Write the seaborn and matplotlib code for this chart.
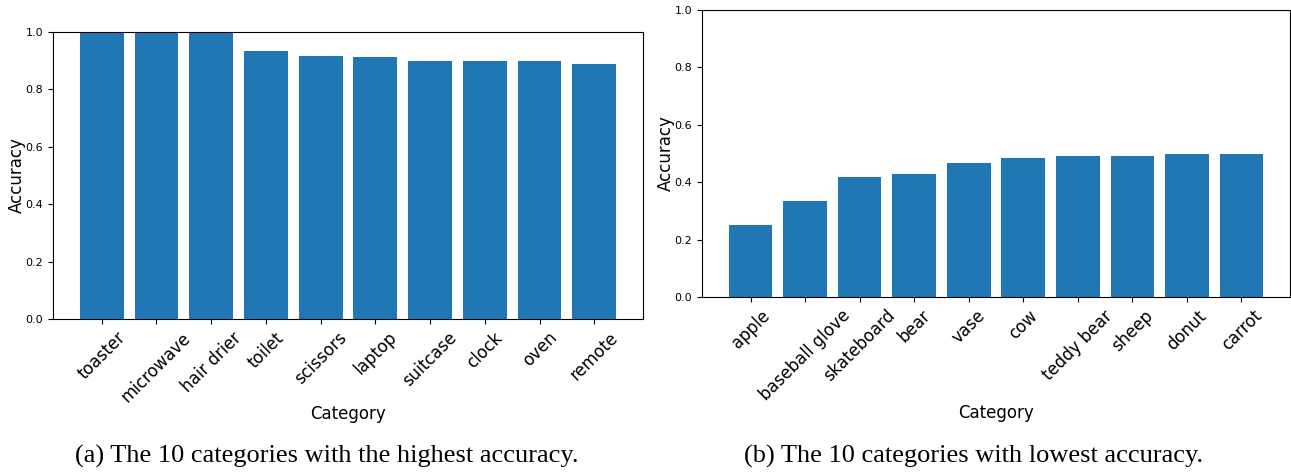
import matplotlib
matplotlib.use("Agg")
import matplotlib.pyplot as plt
import seaborn as sns
import pandas as pd

# Per-category accuracy: best and worst ten categories
top_categories = ["toaster", "microwave", "hair drier", "toilet", "scissors",
                  "laptop", "suitcase", "clock", "oven", "remote"]
top_accuracy = [1.0, 1.0, 1.0, 0.935, 0.917, 0.913, 0.9, 0.9, 0.9, 0.889]

low_categories = ["apple", "baseball glove", "skateboard", "bear", "vase",
                  "cow", "teddy bear", "sheep", "donut", "carrot"]
low_accuracy = [0.25, 0.333, 0.417, 0.429, 0.467, 0.483, 0.49, 0.49, 0.5, 0.5]

captions = ["(a) The 10 categories with the highest accuracy.",
            "(b) The 10 categories with lowest accuracy."]

sns.set_style("ticks")
plt.rcParams["font.family"] = ["DejaVu Sans"]
for key in ["text.color", "axes.labelcolor", "xtick.color", "ytick.color", "axes.edgecolor"]:
    plt.rcParams[key] = "black"

W, H = 1291, 472
fig = plt.figure(figsize=(W / 100, H / 100), dpi=100)


def px_axes(left, top, right, bottom):
    return fig.add_axes([left / W, 1 - bottom / H, (right - left) / W, (bottom - top) / H])


ax_a = px_axes(53, 32, 643, 319)
ax_b = px_axes(702, 10, 1290, 297)

panels = [
    (ax_a, top_categories, top_accuracy),
    (ax_b, low_categories, low_accuracy),
]

for ax, cats, vals in panels:
    df = pd.DataFrame({"Category": cats, "Accuracy": vals})
    sns.barplot(data=df, x="Category", y="Accuracy", order=cats,
                color="#1f77b4", saturation=1, width=0.8, linewidth=0, ax=ax)
    n = len(cats)
    pad = 0.05 * (n - 1 + 0.8)
    ax.set_xlim(-0.4 - pad, n - 1 + 0.4 + pad)
    ax.set_ylim(0, 1.0)
    ax.set_yticks([0.0, 0.2, 0.4, 0.6, 0.8, 1.0])
    ax.tick_params(axis="y", labelsize=8, length=3.5, width=0.8)
    ax.tick_params(axis="x", labelsize=12, length=3.5, width=0.8)
    for lbl in ax.get_xticklabels():
        lbl.set_rotation(45)
    ax.set_xlabel("Category", fontsize=12, labelpad=0)
    ax.set_ylabel("Accuracy", fontsize=12, labelpad=0)
    for s in ax.spines.values():
        s.set_visible(True)
        s.set_linewidth(0.8)
        s.set_color("black")

fig.text(326.5 / W, 1 - 456 / H, captions[0], ha="center", va="center",
         fontsize=19, family=["Liberation Serif", "DejaVu Serif"])
fig.text(974 / W, 1 - 456 / H, captions[1], ha="center", va="center",
         fontsize=19, family=["Liberation Serif", "DejaVu Serif"])

fig.savefig("out.png", dpi=100)
